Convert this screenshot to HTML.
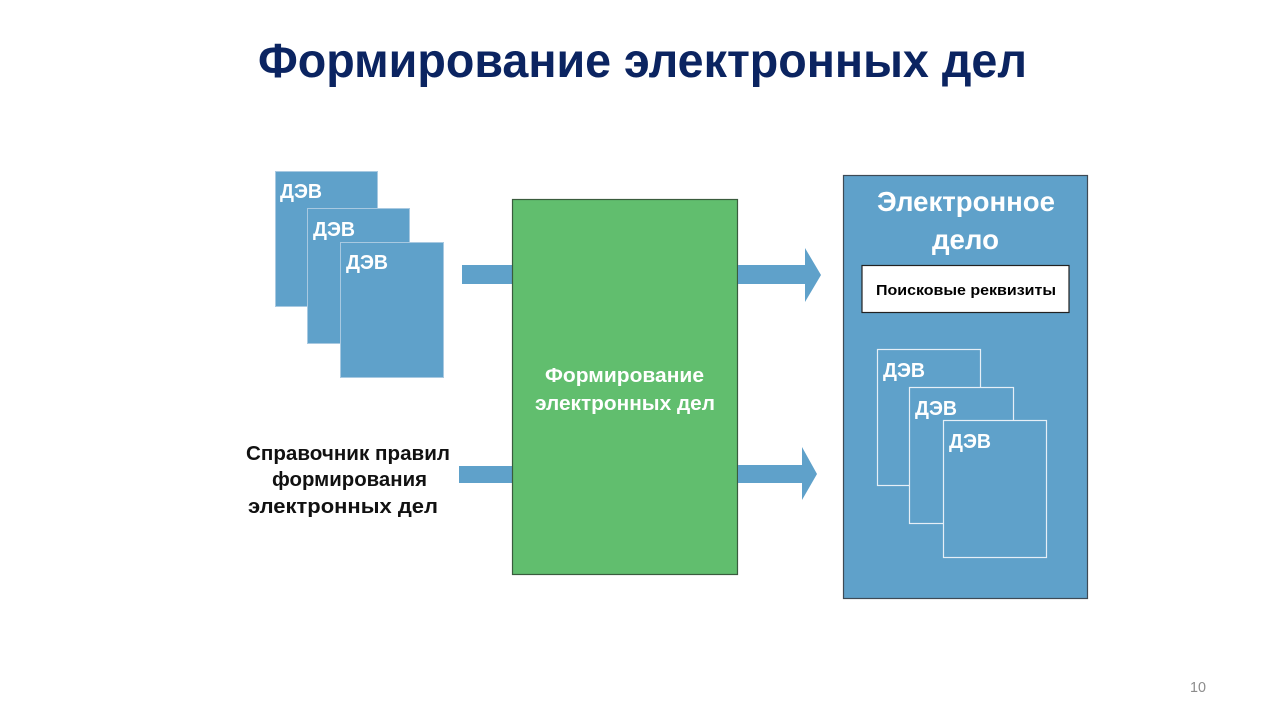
<!DOCTYPE html>
<html>
<head>
<meta charset="utf-8">
<style>
  html, body { margin: 0; padding: 0; background: #ffffff; }
  body { width: 1280px; height: 720px; overflow: hidden; }
  svg { display: block; }
  text { font-family: "Liberation Sans", "DejaVu Sans", sans-serif; }
</style>
</head>
<body>
<svg width="1280" height="720" viewBox="0 0 1280 720" xmlns="http://www.w3.org/2000/svg">
  <rect x="0" y="0" width="1280" height="720" fill="#ffffff"/>

  <!-- Title -->
  <text x="258" y="77" font-size="48" font-weight="bold" fill="#0b2461" textLength="769" lengthAdjust="spacingAndGlyphs">Формирование электронных дел</text>

  <!-- Left documents -->
  <rect x="275.5" y="171.5" width="102" height="135" fill="#5fa1ca" stroke="#a8c9e1" stroke-width="1"/>
  <text x="280" y="198" font-size="20" font-weight="bold" fill="#ffffff" textLength="42" lengthAdjust="spacingAndGlyphs">ДЭВ</text>
  <rect x="307.5" y="208.5" width="102" height="135" fill="#5fa1ca" stroke="#a8c9e1" stroke-width="1"/>
  <text x="313" y="236" font-size="20" font-weight="bold" fill="#ffffff" textLength="42" lengthAdjust="spacingAndGlyphs">ДЭВ</text>
  <rect x="340.5" y="242.5" width="103" height="135" fill="#5fa1ca" stroke="#a8c9e1" stroke-width="1"/>
  <text x="346" y="269" font-size="20" font-weight="bold" fill="#ffffff" textLength="42" lengthAdjust="spacingAndGlyphs">ДЭВ</text>

  <!-- Left arrows (bodies) -->
  <rect x="462" y="265" width="51" height="19" fill="#5fa1ca"/>
  <rect x="459" y="466" width="54" height="17" fill="#5fa1ca"/>

  <!-- Left text -->
  <text x="246" y="460" font-size="20" font-weight="bold" fill="#111111" textLength="204" lengthAdjust="spacingAndGlyphs">Справочник правил</text>
  <text x="272" y="486" font-size="20" font-weight="bold" fill="#111111" textLength="155" lengthAdjust="spacingAndGlyphs">формирования</text>
  <text x="248" y="513" font-size="20" font-weight="bold" fill="#111111" textLength="190" lengthAdjust="spacingAndGlyphs">электронных дел</text>

  <!-- Green box -->
  <rect x="512.5" y="199.5" width="225" height="375" fill="#61be6e" stroke="#3a5c3d" stroke-width="1.2"/>
  <text x="545" y="382" font-size="20" font-weight="bold" fill="#ffffff" textLength="159" lengthAdjust="spacingAndGlyphs">Формирование</text>
  <text x="535" y="410" font-size="20" font-weight="bold" fill="#ffffff" textLength="180" lengthAdjust="spacingAndGlyphs">электронных дел</text>

  <!-- Right arrows -->
  <polygon points="738,265 805,265 805,248 821,275 805,302 805,284 738,284" fill="#5fa1ca"/>
  <polygon points="738,465 802,465 802,447 817,474 802,500 802,483 738,483" fill="#5fa1ca"/>

  <!-- Right big box -->
  <rect x="843.5" y="175.5" width="244" height="423" fill="#5fa1ca" stroke="#3e4a55" stroke-width="1.2"/>
  <text x="877" y="211" font-size="28" font-weight="bold" fill="#ffffff" textLength="178" lengthAdjust="spacingAndGlyphs">Электронное</text>
  <text x="932" y="249" font-size="28" font-weight="bold" fill="#ffffff" textLength="67" lengthAdjust="spacingAndGlyphs">дело</text>

  <!-- Search requisites box -->
  <rect x="862" y="265.5" width="207" height="47" fill="#ffffff" stroke="#222222" stroke-width="1.2"/>
  <text x="876" y="295" font-size="15" font-weight="bold" fill="#000000" textLength="180" lengthAdjust="spacingAndGlyphs">Поисковые реквизиты</text>

  <!-- Inner documents -->
  <rect x="877.5" y="349.5" width="103" height="136" fill="#5fa1ca" stroke="#e6eff7" stroke-width="1.2"/>
  <text x="883" y="377" font-size="20" font-weight="bold" fill="#ffffff" textLength="42" lengthAdjust="spacingAndGlyphs">ДЭВ</text>
  <rect x="909.5" y="387.5" width="104" height="136" fill="#5fa1ca" stroke="#e6eff7" stroke-width="1.2"/>
  <text x="915" y="415" font-size="20" font-weight="bold" fill="#ffffff" textLength="42" lengthAdjust="spacingAndGlyphs">ДЭВ</text>
  <rect x="943.5" y="420.5" width="103" height="137" fill="#5fa1ca" stroke="#e6eff7" stroke-width="1.2"/>
  <text x="949" y="448" font-size="20" font-weight="bold" fill="#ffffff" textLength="42" lengthAdjust="spacingAndGlyphs">ДЭВ</text>

  <!-- Page number -->
  <text x="1190" y="692" font-size="14.5" fill="#8c8c8c" textLength="16" lengthAdjust="spacingAndGlyphs">10</text>
</svg>
</body>
</html>
